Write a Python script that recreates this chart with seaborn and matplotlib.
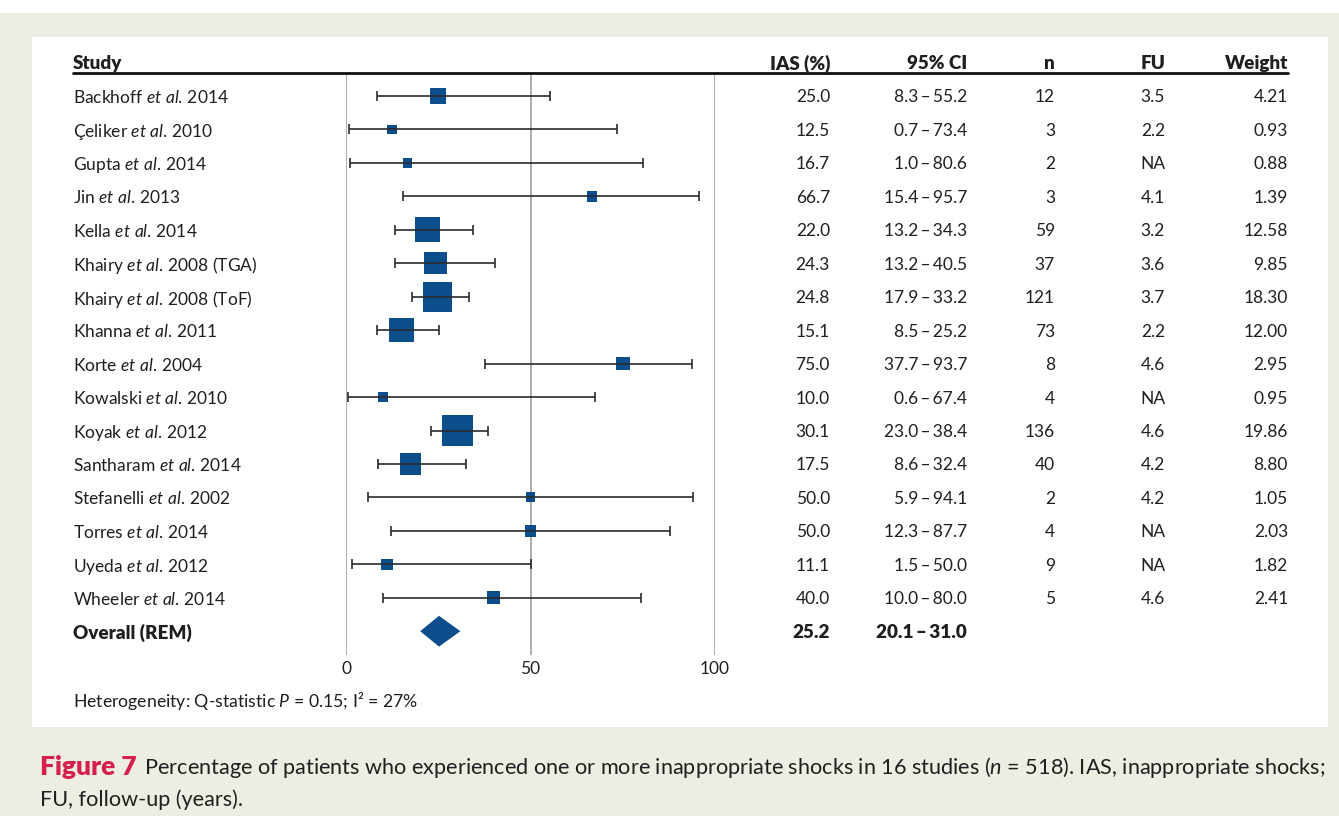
import numpy as np
import pandas as pd
import matplotlib
matplotlib.use("Agg")
import matplotlib.pyplot as plt
from matplotlib.lines import Line2D
from matplotlib.patches import Rectangle
from matplotlib.transforms import blended_transform_factory
import seaborn as sns

# ---- data -------------------------------------------------------------
authors = ["Backhoff", "Çeliker", "Gupta", "Jin", "Kella", "Khairy", "Khairy",
           "Khanna", "Korte", "Kowalski", "Koyak", "Santharam", "Stefanelli",
           "Torres", "Uyeda", "Wheeler"]
years = ["2014", "2010", "2014", "2013", "2014", "2008 (TGA)", "2008 (ToF)",
         "2011", "2004", "2010", "2012", "2014", "2002", "2014", "2012", "2014"]
ias = [25.0, 12.5, 16.7, 66.7, 22.0, 24.3, 24.8, 15.1, 75.0, 10.0, 30.1, 17.5,
       50.0, 50.0, 11.1, 40.0]
ci_low = [8.3, 0.7, 1.0, 15.4, 13.2, 13.2, 17.9, 8.5, 37.7, 0.6, 23.0, 8.6,
          5.9, 12.3, 1.5, 10.0]
ci_high = [55.2, 73.4, 80.6, 95.7, 34.3, 40.5, 33.2, 25.2, 93.7, 67.4, 38.4,
           32.4, 94.1, 87.7, 50.0, 80.0]
n_pat = [12, 3, 2, 3, 59, 37, 121, 73, 8, 4, 136, 40, 2, 4, 9, 5]
follow_up = ["3.5", "2.2", "NA", "4.1", "3.2", "3.6", "3.7", "2.2", "4.6", "NA",
             "4.6", "4.2", "4.2", "NA", "NA", "4.6"]
weights = [4.21, 0.93, 0.88, 1.39, 12.58, 9.85, 18.30, 12.00, 2.95, 0.95,
           19.86, 8.80, 1.05, 2.03, 1.82, 2.41]
overall_est, overall_low, overall_high = 25.2, 20.1, 31.0
x_ticks = [0, 50, 100]

df = pd.DataFrame({"author": authors, "year": years, "ias": ias,
                   "lo": ci_low, "hi": ci_high, "n": n_pat,
                   "fu": follow_up, "weight": weights})
df["row"] = np.arange(len(df))
overall_row = len(df)

# ---- styling ----------------------------------------------------------
sns.set_theme(style="white")
FONT = "Lato"
plt.rcParams["font.family"] = [FONT, "DejaVu Sans"]
plt.rcParams["mathtext.fontset"] = "custom"
plt.rcParams["mathtext.rm"] = FONT
plt.rcParams["mathtext.it"] = FONT + ":italic"
plt.rcParams["mathtext.bf"] = FONT + ":bold"

BLUE = "#0c4d8c"
INK = "#1f1f1f"
BEIGE = "#eeede3"
RED = "#d51f4d"
FS = 12.5
FS_BOLD = 13.6

W, H = 1339, 816
fig = plt.figure(figsize=(W / 100, H / 100), dpi=100, facecolor=BEIGE)


def fx(px):
    return px / W


def fy(py):
    return 1 - py / H


# page background and white panel
fig.patches.append(Rectangle((0, fy(13)), 1, 13 / H, transform=fig.transFigure,
                             facecolor="white", edgecolor="none", zorder=-10))
fig.patches.append(Rectangle((fx(32), fy(727)), (1328 - 32) / W, (727 - 37) / H,
                             transform=fig.transFigure, facecolor="white",
                             edgecolor="none", zorder=-10))

# forest-plot axes: x 0..100, one row per study
row0_px, row_step = 96, 33.45
ax_top_px, ax_bot_px = 73, 655
ax = fig.add_axes([fx(346), fy(ax_bot_px), fx(715) - fx(346),
                   (ax_bot_px - ax_top_px) / H])
ax.set_facecolor("none")
ax.set_xlim(0, 100)
ax.set_ylim((ax_bot_px - row0_px) / row_step, (ax_top_px - row0_px) / row_step)
for s in ax.spines.values():
    s.set_visible(False)

for xv in x_ticks:
    ax.axvline(xv, color="#a0a0a0", lw=1.2, zorder=0)

sns.scatterplot(data=df, x="ias", y="row", size="weight", sizes=(46, 500),
                marker="s", color=BLUE, linewidth=0, legend=False, ax=ax,
                zorder=2)
ax.errorbar(df["ias"], df["row"],
            xerr=[df["ias"] - df["lo"], df["hi"] - df["ias"]],
            fmt="none", ecolor="#2b2b2b", elinewidth=1.2, capsize=3.8,
            capthick=1.2, zorder=3)

# pooled estimate diamond
dh = 0.46
ax.fill([overall_low, overall_est, overall_high, overall_est],
        [overall_row, overall_row - dh, overall_row, overall_row + dh],
        color=BLUE, linewidth=0, zorder=2)

ax.set_xticks(x_ticks)
ax.set_xticklabels([str(t) for t in x_ticks], fontsize=FS, color=INK)
ax.tick_params(axis="x", length=0, pad=4)
ax.set_yticks([])
ax.set_xlabel("")
ax.set_ylabel("")

# ---- table columns ----------------------------------------------------
tr = blended_transform_factory(fig.transFigure, ax.transData)
header_y = (62 - row0_px) / row_step

col_study = 73
cols = {"IAS (%)": 830, "95% CI": 967, "n": 1055, "FU": 1165, "Weight": 1288}

ax.text(fx(col_study), header_y, "Study", transform=tr, ha="left",
        va="center_baseline", fontsize=FS_BOLD, fontweight="heavy", color=INK)
for name, px in cols.items():
    ax.text(fx(px), header_y, name, transform=tr, ha="right",
            va="center_baseline", fontsize=FS_BOLD, fontweight="heavy",
            color=INK)

# rule under the header
fig.add_artist(Line2D([fx(73), fx(1288)], [fy(73), fy(73)],
                      transform=fig.transFigure, color="#111111", lw=2.0))

dash = "\u2009\u2013\u2009"
for _, r in df.iterrows():
    label = r["author"] + r" $\mathit{et\ al.}$" + "\u2009" + r["year"]
    y = r["row"]
    ax.text(fx(col_study), y, label, transform=tr, ha="left",
            va="center_baseline", fontsize=FS, color=INK)
    vals = [f"{r['ias']:.1f}", f"{r['lo']:.1f}{dash}{r['hi']:.1f}",
            f"{r['n']}", r["fu"], f"{r['weight']:.2f}"]
    for v, px in zip(vals, cols.values()):
        ax.text(fx(px), y, v, transform=tr, ha="right",
                va="center_baseline", fontsize=FS, color=INK)

ax.text(fx(col_study), overall_row, "Overall (REM)", transform=tr, ha="left",
        va="center_baseline", fontsize=FS_BOLD, fontweight="heavy", color=INK)
ax.text(fx(cols["IAS (%)"]), overall_row, f"{overall_est:.1f}", transform=tr,
        ha="right", va="center_baseline", fontsize=FS_BOLD,
        fontweight="heavy", color=INK)
ax.text(fx(cols["95% CI"]), overall_row,
        f"{overall_low:.1f}{dash}{overall_high:.1f}", transform=tr,
        ha="right", va="center_baseline", fontsize=FS_BOLD,
        fontweight="heavy", color=INK)

fig.text(fx(73), fy(698), r"Heterogeneity: Q-statistic $\mathit{P}$ = 0.15; I² = 27%",
         ha="left", va="center_baseline", fontsize=12.7, color=INK)

# ---- caption ----------------------------------------------------------
cap_fs = 15.6
t1 = fig.text(fx(40), fy(765), "Figure 7", ha="left", va="center_baseline",
              fontsize=19, fontweight="heavy", color=RED)
plt.annotate(
    r" Percentage of patients who experienced one or more inappropriate shocks"
    r" in 16 studies ($\mathit{n}$ = 518). IAS, inappropriate shocks;",
    xy=(1, 0.22), xycoords=t1, xytext=(2, 0), textcoords="offset points",
    ha="left", va="baseline", fontsize=cap_fs, color=INK,
    annotation_clip=False)
fig.text(fx(40), fy(798), "FU, follow-up (years).", ha="left",
         va="center_baseline", fontsize=cap_fs, color=INK)

fig.savefig("out.png", dpi=100, facecolor=BEIGE)
